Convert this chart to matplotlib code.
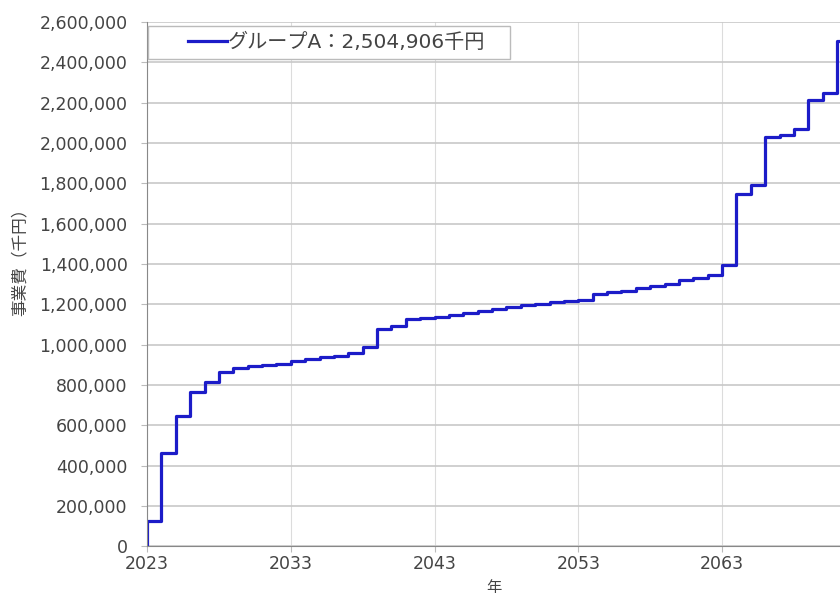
import matplotlib
matplotlib.use('Agg')
import matplotlib.pyplot as plt
from matplotlib.patches import Rectangle
from matplotlib.ticker import FuncFormatter

plt.rcParams['font.family'] = ['DejaVu Sans', 'Noto Sans CJK JP']

years = list(range(2023, 2072))
# cumulative cost (thousand yen)
cost = [125000, 463000, 647000, 763000, 815000, 865000, 882000, 893000, 900000, 906000,
        918000, 930000, 938000, 945000, 956000, 989000, 1075000, 1090000, 1128000, 1133000,
        1138000, 1146000, 1156000, 1166000, 1175000, 1184000, 1194000, 1203000, 1211000, 1217000,
        1223000, 1250000, 1260000, 1268000, 1279000, 1290000, 1303000, 1318000, 1331000, 1345000,
        1397000, 1747000, 1792000, 2030000, 2040000, 2070000, 2215000, 2250000, 2504906]
series_label = 'グループA：2,504,906千円'
x_ticks = [2023, 2033, 2043, 2053, 2063]

fig = plt.figure(figsize=(8.4, 5.95), dpi=100)
ax = fig.add_axes([0.175, 0.082, 0.825, 0.881])

xs = [years[0]] + years + [years[-1] + 1]
ys = [0] + cost + [cost[-1]]
ax.step(xs, ys, where='post', color='#1c1cc8', lw=2.3, label=series_label)

ax.set_xlim(2023, 2071.2)
ax.set_ylim(0, 2600000)
ax.set_yticks(range(0, 2600001, 200000))
ax.set_xticks(x_ticks)
ax.yaxis.set_major_formatter(FuncFormatter(lambda v, p: f'{int(v):,}'))

ax.grid(axis='y', color='#c8c8c8', lw=1.2)
ax.grid(axis='x', color='#dcdcdc', lw=0.8)
ax.set_axisbelow(True)
for s in ['top', 'right']:
    ax.spines[s].set_visible(False)
for s in ['left', 'bottom']:
    ax.spines[s].set_color('#888888')
ax.tick_params(axis='both', colors='#bbbbbb', labelcolor='#444444', labelsize=12.5, length=4)
ax.tick_params(axis='y', pad=10)
ax.tick_params(axis='x', pad=2)

cjk = ['Noto Sans CJK JP', 'DejaVu Sans']
ax.set_xlabel('年', fontsize=11, color='#444444', labelpad=5, family=cjk)
ax.set_ylabel('事業費（千円）', fontsize=12, color='#444444', family=cjk)
ax.yaxis.set_label_coords(-0.171, 0.55)

# legend box drawn separately so the padding matches the original
ax.add_patch(Rectangle((0.001, 0.929), 0.523, 0.063, transform=ax.transAxes,
                       facecolor='white', edgecolor='#bbbbbb', lw=1.0, zorder=4))
leg = ax.legend(loc='center left', fontsize=14.5, frameon=False,
                handlelength=1.95, handletextpad=0.05, borderpad=0, borderaxespad=0,
                bbox_to_anchor=(0.059, 0.961))
leg.set_zorder(5)
for t in leg.get_texts():
    t.set_color('#444444')

fig.savefig('out.png', dpi=100)
